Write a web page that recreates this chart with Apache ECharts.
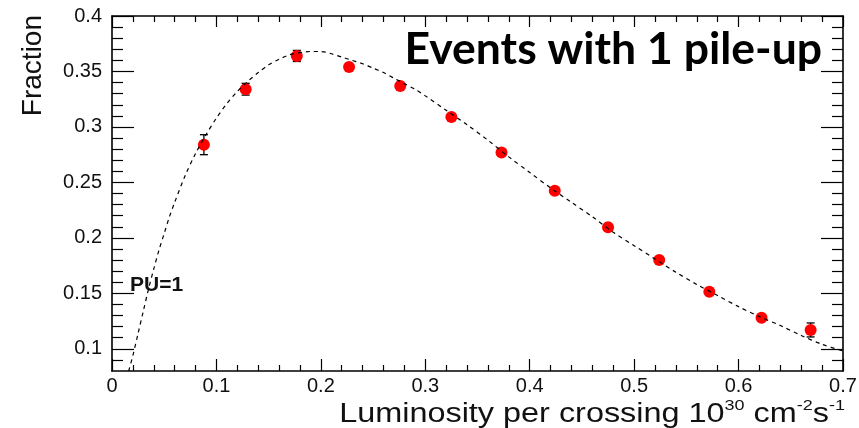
<!DOCTYPE html>
<html>
<head>
<meta charset="utf-8">
<script src="https://cdn.jsdelivr.net/npm/echarts@6/dist/echarts.min.js"></script>
<style>
  html, body { margin: 0; padding: 0; background: #fff; }
  #chart { width: 859px; height: 428px; }
</style>
</head>
<body>
<div id="chart"></div>
<script>
// Measured fraction of events with exactly one pile-up interaction
const lumiX = [0.088, 0.128, 0.177, 0.227, 0.276, 0.325, 0.373, 0.424, 0.475, 0.524, 0.572, 0.622, 0.669];
const fraction = [0.284, 0.334, 0.364, 0.354, 0.337, 0.309, 0.277, 0.2425, 0.2095, 0.180, 0.1515, 0.128, 0.117];
const fractionErr = [0.009, 0.0053, 0.005, 0.002, 0.002, 0.002, 0.002, 0.002, 0.002, 0.002, 0.002, 0.002, 0.0063];

// Fitted curve (dashed)
const fitX = [0.016, 0.020, 0.025, 0.030, 0.035, 0.040, 0.045, 0.050, 0.055, 0.060, 0.070, 0.080, 0.090,
  0.100, 0.110, 0.120, 0.130, 0.140, 0.150, 0.160, 0.170, 0.180, 0.190, 0.200, 0.210, 0.220, 0.230,
  0.240, 0.250, 0.260, 0.270, 0.280, 0.290, 0.300, 0.320, 0.340, 0.360, 0.380, 0.400, 0.420, 0.440,
  0.460, 0.480, 0.500, 0.520, 0.540, 0.560, 0.580, 0.600, 0.620, 0.640, 0.660, 0.680, 0.700];
const fitY = [0.080, 0.094, 0.114, 0.134, 0.154, 0.172, 0.189, 0.204, 0.219, 0.232, 0.256, 0.276, 0.293,
  0.308, 0.321, 0.332, 0.341, 0.349, 0.356, 0.361, 0.365, 0.367, 0.368, 0.368, 0.366, 0.363, 0.360,
  0.357, 0.353, 0.349, 0.344, 0.339, 0.334, 0.328, 0.315, 0.302, 0.288, 0.273, 0.259, 0.245, 0.232,
  0.219, 0.205, 0.193, 0.181, 0.169, 0.158, 0.148, 0.138, 0.129, 0.121, 0.112, 0.104, 0.098];

// Axis ticks
const yMajorTicks = [0.1, 0.15, 0.2, 0.25, 0.3, 0.35, 0.4];
const yMinorTicks = [0.09, 0.11, 0.12, 0.13, 0.14, 0.16, 0.17, 0.18, 0.19, 0.21, 0.22, 0.23, 0.24,
  0.26, 0.27, 0.28, 0.29, 0.31, 0.32, 0.33, 0.34, 0.36, 0.37, 0.38, 0.39];

const FONT = '"Liberation Sans", Arial, sans-serif';
const INK = '#111';

const chart = echarts.init(document.getElementById('chart'));

const tickLine = { color: '#000', width: 1.2 };
const axisLine = { show: true, onZero: false, lineStyle: { color: '#000', width: 1.6 } };

function xAxisDef(pos, majorLen, minorLen, showLabel) {
  return {
    type: 'value', position: pos, min: 0, max: 0.7, interval: 0.1,
    axisLine: axisLine,
    axisTick: { show: true, inside: true, length: majorLen, lineStyle: tickLine },
    minorTick: { show: true, splitNumber: 5, length: minorLen, lineStyle: tickLine },
    axisLabel: { show: showLabel, fontFamily: FONT, fontSize: 20, color: INK, margin: 5 },
    splitLine: { show: false }, minorSplitLine: { show: false }
  };
}

function yAxisDef(pos, ticks, len, showLine, showLabel) {
  return {
    type: 'value', position: pos, min: 0.08, max: 0.4,
    axisLine: Object.assign({}, axisLine, { show: showLine }),
    axisTick: { show: true, inside: true, length: len, customValues: ticks, lineStyle: tickLine },
    axisLabel: { show: showLabel, customValues: ticks, fontFamily: FONT, fontSize: 20, color: INK, margin: 10 },
    splitLine: { show: false }
  };
}

chart.setOption({
  animation: false,
  backgroundColor: '#fff',
  grid: { left: 112, right: 16, top: 16, bottom: 57, outerBoundsMode: 'none' },
  xAxis: [
    xAxisDef('bottom', 12, 6, true),
    xAxisDef('top', 11, 6, false)
  ],
  yAxis: [
    yAxisDef('left', yMajorTicks, 22, true, true),
    yAxisDef('left', yMinorTicks, 11, false, false),
    yAxisDef('right', yMajorTicks, 22, true, false),
    yAxisDef('right', yMinorTicks, 11, false, false)
  ],
  graphic: [
    {
      type: 'text', x: 47, y: 15, rotation: Math.PI / 2,
      style: { text: 'Fraction', font: '28px ' + FONT, fill: INK, textAlign: 'right', textVerticalAlign: 'bottom' }
    },
    {
      type: 'text', x: 845, y: 428, scaleX: 1.2,
      style: {
        text: '{m|Luminosity per crossing 10}{s|30}{m| cm}{s|-2}{m|s}{s|-1}',
        textAlign: 'right', textVerticalAlign: 'bottom', fill: INK,
        rich: {
          m: { fontFamily: FONT, fontSize: 27, fill: INK, verticalAlign: 'bottom', lineHeight: 30 },
          s: { fontFamily: FONT, fontSize: 15, fill: INK, verticalAlign: 'top', lineHeight: 30 }
        }
      }
    },
    {
      type: 'text', x: 130, y: 296,
      style: { text: 'PU=1', font: 'bold 21px ' + FONT, fill: INK, textAlign: 'left', textVerticalAlign: 'bottom' }
    },
    {
      type: 'text', x: 822, y: 72,
      style: { text: 'Events with 1 pile-up', font: 'bold 44.5px Lato, sans-serif', fill: '#000', textAlign: 'right', textVerticalAlign: 'bottom' }
    }
  ],
  series: [
    {
      type: 'custom',
      name: 'errors',
      xAxisIndex: 0, yAxisIndex: 0,
      data: lumiX.map((x, i) => [x, fraction[i], fractionErr[i]]),
      renderItem: function (params, api) {
        const x = api.value(0), y = api.value(1), e = api.value(2);
        const top = api.coord([x, y + e]);
        const bot = api.coord([x, y - e]);
        const cap = 4;
        const st = { stroke: '#000', lineWidth: 1.3 };
        return {
          type: 'group',
          children: [
            { type: 'line', shape: { x1: top[0], y1: top[1], x2: bot[0], y2: bot[1] }, style: st },
            { type: 'line', shape: { x1: top[0] - cap, y1: top[1], x2: top[0] + cap, y2: top[1] }, style: st },
            { type: 'line', shape: { x1: bot[0] - cap, y1: bot[1], x2: bot[0] + cap, y2: bot[1] }, style: st }
          ]
        };
      },
      z: 2
    },
    {
      type: 'scatter',
      name: 'data',
      xAxisIndex: 0, yAxisIndex: 0,
      data: lumiX.map((x, i) => [x, fraction[i]]),
      symbol: 'circle', symbolSize: 12,
      itemStyle: { color: '#ff0000', opacity: 1 },
      z: 3
    },
    {
      type: 'line',
      name: 'fit',
      xAxisIndex: 0, yAxisIndex: 0,
      data: fitX.map((x, i) => [x, fitY[i]]),
      showSymbol: false, smooth: 0.3,
      lineStyle: { color: '#000', width: 1.2, type: [4, 4] },
      clip: true,
      z: 4
    }
  ]
});
</script>
</body>
</html>
